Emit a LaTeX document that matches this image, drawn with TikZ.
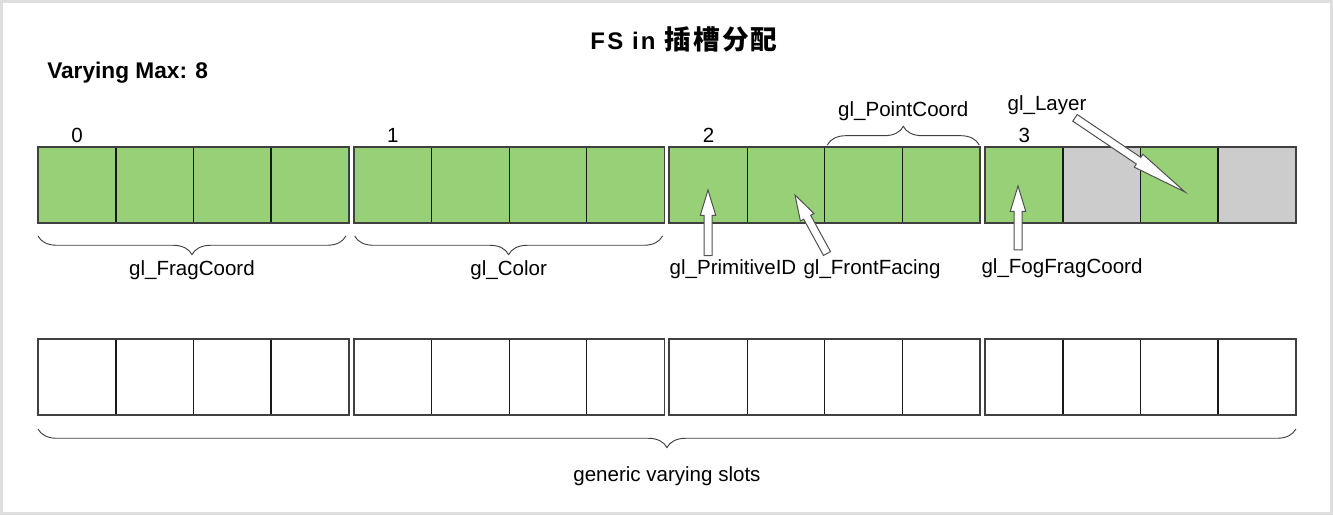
\documentclass[tikz,border=0pt]{standalone}
\usepackage{fontspec}
\setmainfont{Liberation Sans}
\newfontfamily\titlefont{Liberation Sans}[LetterSpace=9]
\newfontfamily\cjkfont{Noto Sans CJK SC}[LetterSpace=8]
\usetikzlibrary{positioning,calc,decorations.pathreplacing}
\definecolor{slotgreen}{HTML}{97D077}
\definecolor{slotgray}{HTML}{CCCCCC}
\definecolor{framegray}{HTML}{DEDEDE}
\definecolor{arrowgray}{HTML}{505050}
\tikzset{
  cell/.style       = {draw=black!90, line width=0.7pt, inner sep=0pt,
                       minimum width=58.1pt, minimum height=56.25pt, anchor=north west},
  group/.style      = {draw=black!75, line width=1.3pt},
  slotlabel/.style  = {font=\fontsize{15.4}{18}\selectfont, inner sep=1pt},
  num/.style        = {slotlabel, inner sep=0pt},
  heading/.style    = {font=\bfseries\fontsize{17}{20}\selectfont, inner sep=0pt},
  title/.style      = {font=\titlefont\bfseries\fontsize{18}{22}\selectfont, inner sep=0pt},
  braceup/.style    = {decorate, decoration={brace, amplitude=#1},
                       draw=black!75, line width=0.7pt},
  braceup/.default  = 14pt,
  bracedown/.style  = {decorate, decoration={brace, mirror, amplitude=#1},
                       draw=black!75, line width=0.7pt},
  bracedown/.default = 14pt,
  blockarrow/.style = {draw=arrowgray, fill=white, line width=0.75pt, line join=miter,
    to path={let \p1=(\tikztostart), \p2=(\tikztotarget),
                 \n1={atan2(\y2-\y1,\x2-\x1)} in
      ($(\p1)+(\n1+90:3pt)$) -- ($(\p2)+(\n1+180:#1)+(\n1+90:3pt)$)
      -- ($(\p2)+(\n1+180:#1)+(\n1+90:5.8pt)$) -- (\p2)
      -- ($(\p2)+(\n1+180:#1)+(\n1-90:5.8pt)$) -- ($(\p2)+(\n1+180:#1)+(\n1-90:3pt)$)
      -- ($(\p1)+(\n1-90:3pt)$) -- cycle}},
  blockarrow/.default = 19pt,
}
\begin{document}
\begin{tikzpicture}[x=0.75pt, y=-0.75pt]
    \useasboundingbox (0,0) rectangle (1333,515);
    \draw[framegray, line width=2.25pt] (1.5,1.5) rectangle (1331.5,513.5);

    \node[title, anchor=base] (title) at (684,49)
        {FS in {\cjkfont\fontsize{20}{24}\selectfont 插槽分配}};
    \node[heading, anchor=base west] (vmax) at (47,78) {Varying Max: 8};

    % slots used by the built-in inputs
    \foreach \g/\fills in {0/{slotgreen,slotgreen,slotgreen,slotgreen},
                           1/{slotgreen,slotgreen,slotgreen,slotgreen},
                           2/{slotgreen,slotgreen,slotgreen,slotgreen},
                           3/{slotgreen,slotgray,slotgreen,slotgray}} {
        \foreach \col [count=\c from 0] in \fills
            \node[cell, fill=\col] (t\g\c) at ({38+315.67*\g+77.5*\c},147) {};
        \draw[group] (t\g0.north west) rectangle (t\g3.south east);
        \node[num, above=3pt of t\g0] (n\g) {\g};
    }

    % generic slots
    \foreach \g in {0,...,3} {
        \foreach \c in {0,...,3}
            \node[cell, fill=white] (b\g\c) at ({38+315.67*\g+77.5*\c},339) {};
        \draw[group] (b\g0.north west) rectangle (b\g3.south east);
    }

    \draw[bracedown] ([yshift=-9.75pt]t00.south west)
        -- node[slotlabel, below=17pt] (frag) {gl\_FragCoord}
        ([yshift=-9.75pt, xshift=-2.25pt]t03.south east);
    \draw[bracedown] ([yshift=-9.75pt, xshift=0.75pt]t10.south west)
        -- node[slotlabel, below=17pt] (color) {gl\_Color}
        ([yshift=-9.75pt, xshift=-1.5pt]t13.south east);
    \draw[braceup] ([yshift=1.5pt, xshift=2.25pt]t22.north west)
        -- node[slotlabel, above=16.5pt] (point) {gl\_PointCoord}
        ([yshift=1.5pt, xshift=-0.75pt]t23.north east);
    \draw[bracedown] ([yshift=-10.5pt]b00.south west)
        -- node[slotlabel, below=27pt] (generic) {generic varying slots}
        ([yshift=-10.5pt]b33.south east);

    \node[slotlabel, anchor=base] (prim)  at (733,274)  {gl\_PrimitiveID};
    \node[slotlabel, anchor=base] (front) at (872,274)  {gl\_FrontFacing};
    \node[slotlabel, anchor=base] (fog)   at (1062,273) {gl\_FogFragCoord};
    \node[slotlabel, anchor=base] (layer) at (1047,110) {gl\_Layer};

    \coordinate (tip-prim)  at (708,190);
    \coordinate (tip-front) at (795,195);
    \coordinate (tip-fog)   at (1018,186);
    \coordinate (tip-layer) at (1185,192);

    \draw[blockarrow] ([yshift=1.5pt]prim.north -| tip-prim) to (tip-prim);
    \draw[blockarrow] ([xshift=-33.75pt, yshift=3pt]front.north) to (tip-front);
    \draw[blockarrow] ([yshift=5pt]fog.north -| tip-fog) to (tip-fog);
    \draw[blockarrow=42pt] ([xshift=21pt, yshift=-1.5pt]layer.south) to (tip-layer);
\end{tikzpicture}
\end{document}
